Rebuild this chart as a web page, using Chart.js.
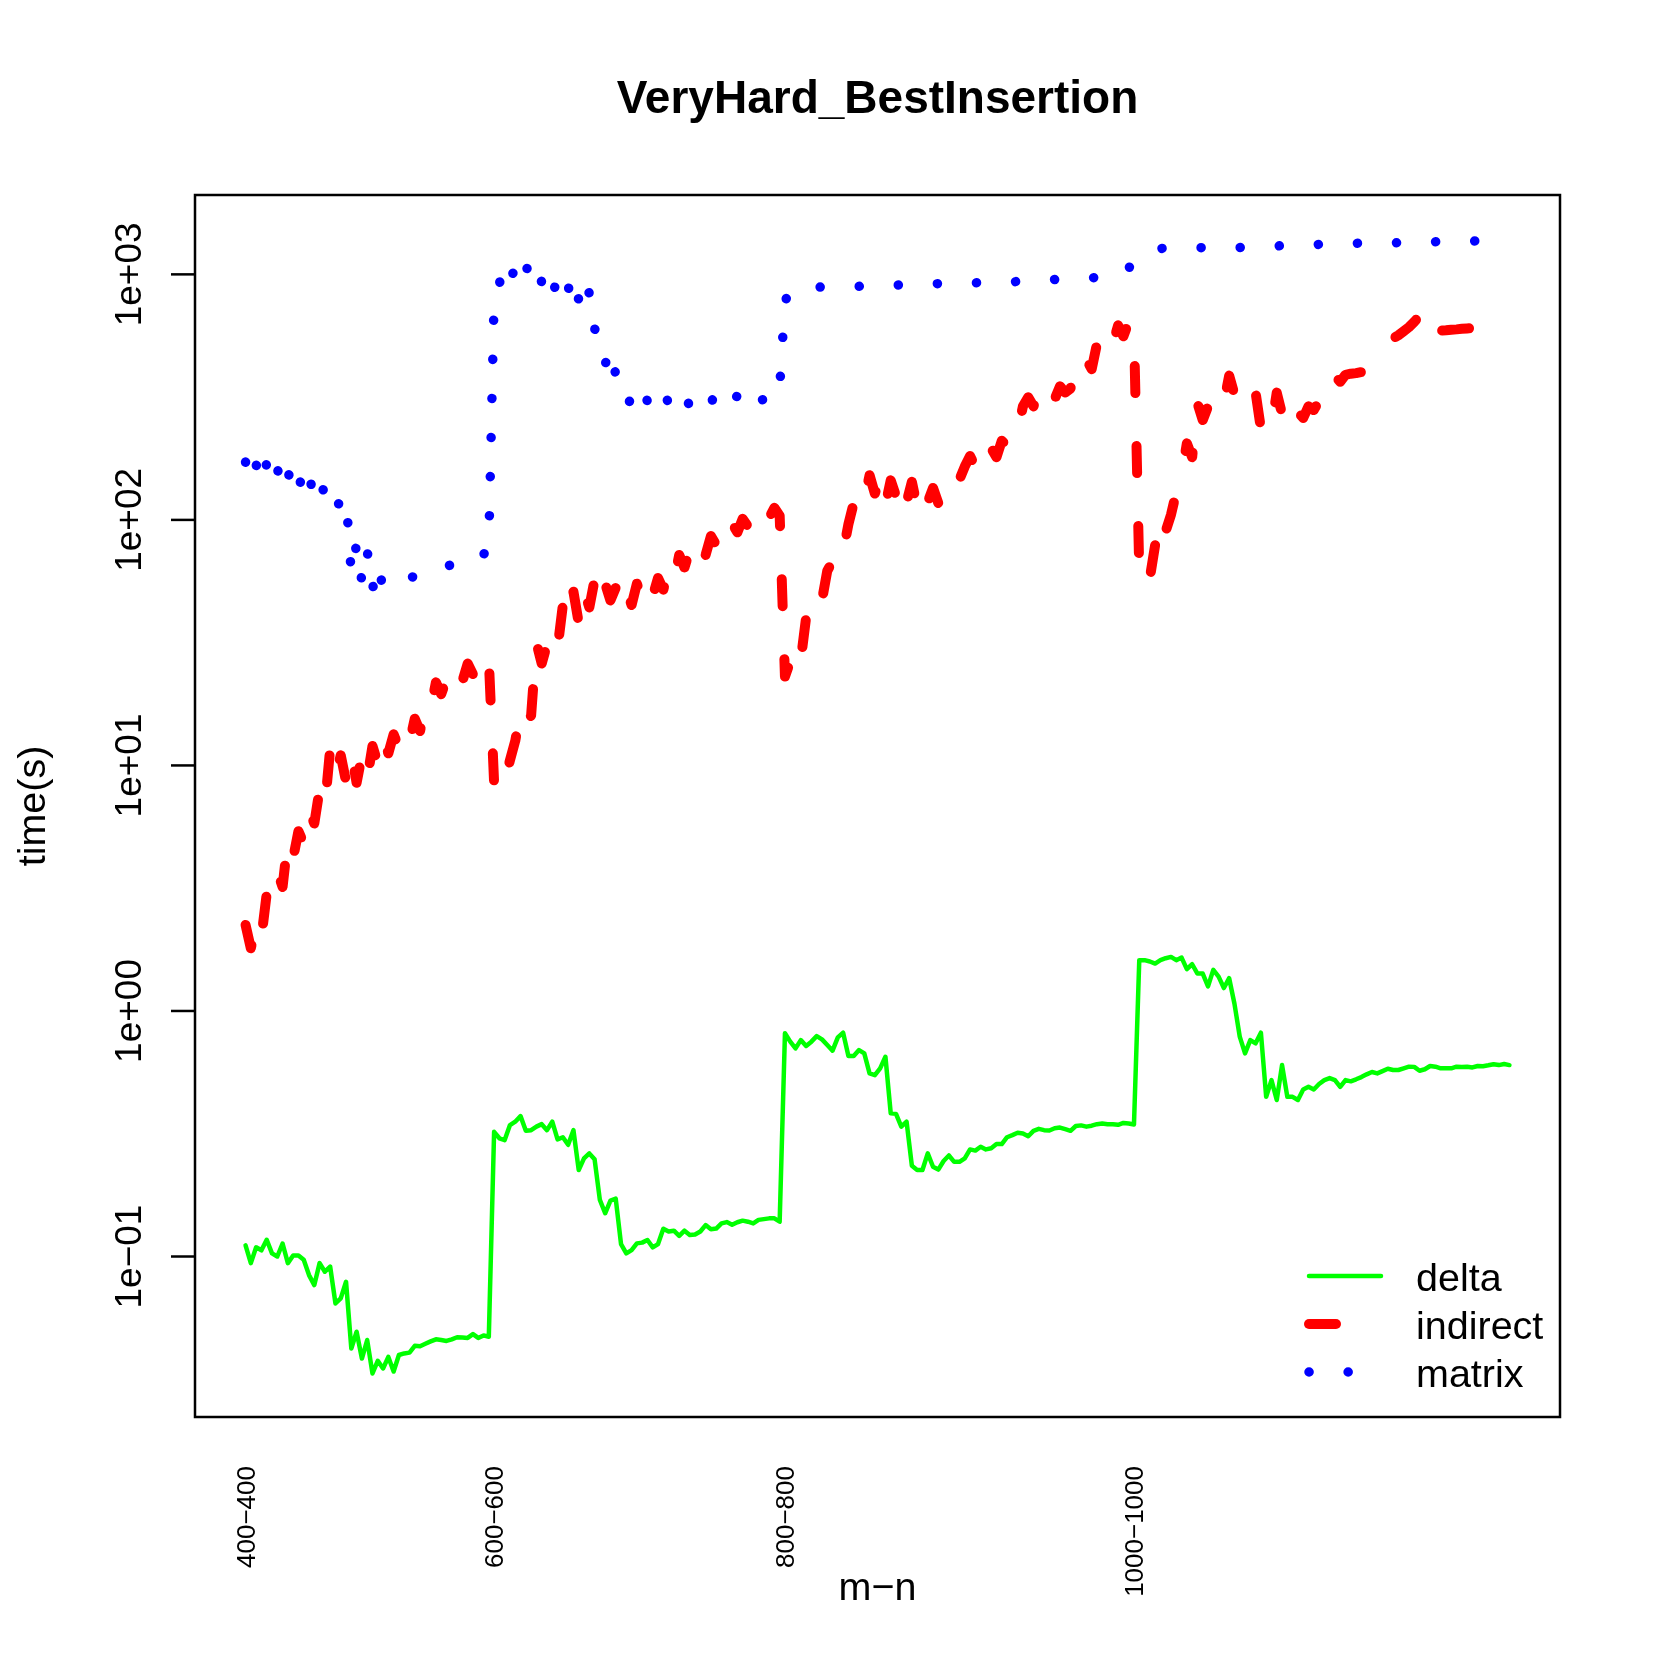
<!DOCTYPE html>
<html>
<head>
<meta charset="utf-8">
<title>VeryHard_BestInsertion</title>
<script src="https://cdn.jsdelivr.net/npm/chart.js@4.4.1/dist/chart.umd.min.js"></script>
<style>
  html, body { margin: 0; padding: 0; background: #ffffff; }
  #wrap { width: 1661px; height: 1661px; }
</style>
</head>
<body>
<div id="wrap"><canvas id="chart" width="1661" height="1661"></canvas></div>
<script>
// --- DATA (one value per m-n instance, index 0..239) ---
const deltaTimes = [
  0.111, 0.094, 0.109, 0.106, 0.117, 0.103, 0.100, 0.113, 0.094, 0.101,
  0.101, 0.097, 0.084, 0.0765, 0.094, 0.0867, 0.091, 0.0644, 0.0675, 0.0789,
  0.0422, 0.0494, 0.0384, 0.0457, 0.0334, 0.0376, 0.035, 0.039, 0.034, 0.0397,
  0.0403, 0.0406, 0.0433, 0.0431, 0.0441, 0.0451, 0.046, 0.0457, 0.0453, 0.046,
  0.0469, 0.0468, 0.0466, 0.0483, 0.0466, 0.0477, 0.0471, 0.322, 0.303, 0.298,
  0.343, 0.354, 0.373, 0.325, 0.327, 0.338, 0.346, 0.327, 0.354, 0.300,
  0.306, 0.285, 0.327, 0.225, 0.251, 0.263, 0.249, 0.170, 0.150, 0.169,
  0.172, 0.1124, 0.103, 0.1062, 0.1131, 0.1139, 0.1167, 0.1089, 0.1124, 0.1298,
  0.1264, 0.1274, 0.1213, 0.1274, 0.1223, 0.1229, 0.1264, 0.1343, 0.1292, 0.130,
  0.1364, 0.1381, 0.1347, 0.1379, 0.140, 0.1386, 0.1364, 0.141, 0.142, 0.143,
  0.143, 0.1386, 0.811, 0.75, 0.704, 0.761, 0.72, 0.75, 0.79, 0.766,
  0.727, 0.689, 0.781, 0.816, 0.655, 0.655, 0.693, 0.672, 0.557, 0.548,
  0.584, 0.651, 0.383, 0.381, 0.338, 0.354, 0.234, 0.225, 0.225, 0.263,
  0.232, 0.226, 0.245, 0.258, 0.243, 0.243, 0.251, 0.273, 0.270, 0.280,
  0.273, 0.276, 0.287, 0.287, 0.306, 0.312, 0.319, 0.317, 0.309, 0.325,
  0.331, 0.327, 0.326, 0.333, 0.335, 0.330, 0.325, 0.340, 0.342, 0.338,
  0.341, 0.346, 0.348, 0.346, 0.346, 0.344, 0.350, 0.348, 0.345, 1.61,
  1.61, 1.59, 1.56, 1.61, 1.64, 1.66, 1.61, 1.65, 1.48, 1.55,
  1.42, 1.42, 1.26, 1.47, 1.38, 1.24, 1.36, 1.07, 0.786, 0.672,
  0.761, 0.738, 0.816, 0.447, 0.523, 0.434, 0.602, 0.447, 0.447, 0.434,
  0.479, 0.491, 0.479, 0.504, 0.523, 0.533, 0.523, 0.491, 0.523, 0.517,
  0.527, 0.538, 0.552, 0.564, 0.557, 0.569, 0.582, 0.575, 0.575, 0.584,
  0.593, 0.592, 0.571, 0.579, 0.597, 0.593, 0.584, 0.584, 0.584, 0.593,
  0.591, 0.593, 0.589, 0.597, 0.596, 0.601, 0.607, 0.602, 0.608, 0.602
];

const indirectTimes = [
  2.24, 1.8, 2.3, 2.0, 3.0, 2.8, 3.7, 3.2, 5.0, 4.2,
  5.4, 4.8, 6.6, 5.8, 8.0, 6.8, 11.7, 9.0, 11.0, 8.6,
  11.3, 8.5, 11.0, 8.8, 12.0, 10.2, 13.2, 11.2, 13.4, 11.8,
  13.8, 12.4, 15.5, 13.8, 18.0, 17.0, 21.8, 19.5, 22.5, 20.5,
  24.0, 22.0, 26.0, 23.5, 27.5, 25.0, 27.0, 8.5, 9.8, 8.6,
  10.5, 12.6, 16.7, 14.5, 16.0, 31.6, 26.0, 31.0, 26.5, 30.0,
  45, 38, 51, 38, 52, 44, 57, 46, 55, 47,
  53, 44, 52, 45, 55, 48, 56, 49, 58, 52,
  63, 56, 72, 64, 75, 68, 80, 72, 86, 79,
  92, 84, 97, 89, 101, 94, 106, 98, 110, 102,
  112, 104, 23, 26.5, 23.0, 27.0, 40, 36, 44, 47,
  62, 68, 80, 74, 96, 117, 105, 120, 152, 128,
  148, 115, 145, 125, 148, 118, 143, 113, 135, 118,
  135, 117, 132, 120, 140, 146, 165, 182, 165, 190,
  172, 196, 180, 210, 200, 240, 230, 290, 316, 290,
  335, 305, 340, 310, 350, 330, 343, 430, 400, 450,
  411, 521, 480, 560, 520, 620, 560, 640, 590, 62,
  68, 58, 79, 106, 90, 105, 130, 152, 205, 180,
  299, 255, 290, 255, 280, 300, 387, 324, 360, 320,
  350, 330, 235, 260, 240, 330, 270, 299, 250, 275,
  260, 290, 280, 305, 372, 350, 385, 365, 390, 394,
  396, 400, 463, 470, 500, 530, 540, 548, 565, 587,
  610, 640, 680, 720, 746, 587, 590, 592, 595, 597,
  600, 602, 604, 606, 608, 610, 612, 613, 615, 616
];

const matrixTimes = [
  172, 143, 168, 140, 170, 142, 162, 135, 158, 132,
  152, 127, 150, 125, 145, 127, 108, 106, 124, 125,
  60, 80, 56, 75, 52, 66, 53, 54, 55, 56,
  57, 58, 59, 61, 62, 63, 64, 64.5, 65, 65.5,
  66, 66, 66, 66, 68, 72, 80, 800, 920, 1060,
  930, 1080, 960, 1090, 950, 1060, 930, 1030, 850, 930,
  800, 900, 700, 800, 690, 850, 600, 560, 430, 500,
  390, 330, 295, 310, 285, 330, 305, 335, 310, 330,
  300, 320, 295, 318, 292, 310, 290, 312, 300, 330,
  315, 330, 305, 320, 300, 318, 302, 320, 305, 330,
  320, 345, 780, 850, 880, 885, 886, 887, 888, 888,
  889, 890, 891, 891, 892, 893, 894, 895, 896, 897,
  898, 900, 902, 904, 906, 908, 910, 912, 913, 915,
  916, 917, 918, 920, 921, 921, 922, 923, 924, 925,
  925, 926, 928, 930, 931, 933, 935, 937, 939, 940,
  943, 947, 950, 953, 957, 961, 964, 965, 967, 968,
  969, 970, 972, 973, 975, 985, 1010, 1060, 1130, 1180,
  1220, 1250, 1265, 1275, 1278, 1280, 1281, 1282, 1283, 1284,
  1285, 1285, 1285, 1286, 1286, 1286, 1287, 1287, 1287, 1290,
  1292, 1295, 1298, 1300, 1302, 1305, 1308, 1310, 1313, 1315,
  1318, 1320, 1322, 1325, 1327, 1329, 1331, 1333, 1335, 1337,
  1339, 1340, 1340, 1341, 1342, 1343, 1344, 1344, 1345, 1347,
  1349, 1351, 1353, 1355, 1357, 1358, 1359, 1360, 1362, 1363,
  1365, 1366, 1367, 1368, 1370, 1371, 1372, 1374, 1375, 1376
];

const seriesNames = ['delta', 'indirect', 'matrix'];
const xTickIdx = [0, 47, 102, 168];
const xTickText = ['400\u2212400', '600\u2212600', '800\u2212800', '1000\u22121000'];
const yTicks = [0.1, 1, 10, 100, 1000];
const yTickText = ['1e\u221201', '1e+00', '1e+01', '1e+02', '1e+03'];

// --- helpers ---
const FONT = '"Liberation Sans", Arial, Helvetica, sans-serif';
const toPoints = (arr) => arr.map((v, i) => ({ x: i, y: v }));

// R style frame, axes text, title and legend
const rDecor = {
  id: 'rDecor',
  afterDraw(chart) {
    const { ctx, chartArea: a, scales: { x, y } } = chart;
    ctx.save();
    ctx.strokeStyle = '#000';
    ctx.fillStyle = '#000';
    ctx.lineWidth = 2.5;
    ctx.strokeRect(a.left, a.top, a.right - a.left, a.bottom - a.top);

    // y axis ticks + labels (rotated like R las=0)
    ctx.font = `37px ${FONT}`;
    yTicks.forEach((v, k) => {
      const py = y.getPixelForValue(v);
      ctx.beginPath();
      ctx.moveTo(a.left, py);
      ctx.lineTo(a.left - 24, py);
      ctx.stroke();
      ctx.save();
      ctx.translate(141, py);
      ctx.rotate(-Math.PI / 2);
      ctx.textAlign = 'center';
      ctx.fillText(yTickText[k], 0, 0);
      ctx.restore();
    });

    // x labels, vertical (las=2)
    ctx.font = `26px ${FONT}`;
    xTickIdx.forEach((v, k) => {
      const px = x.getPixelForValue(v);
      ctx.save();
      ctx.translate(px + 9, 1466);
      ctx.rotate(-Math.PI / 2);
      ctx.textAlign = 'right';
      ctx.fillText(xTickText[k], 0, 0);
      ctx.restore();
    });

    // titles
    const cx = (a.left + a.right) / 2;
    ctx.textAlign = 'center';
    ctx.font = `bold 46px ${FONT}`;
    ctx.fillText('VeryHard_BestInsertion', cx, 113);
    ctx.font = `39.5px ${FONT}`;
    ctx.fillText('m\u2212n', cx, 1600);
    ctx.save();
    ctx.translate(45, (a.top + a.bottom) / 2);
    ctx.rotate(-Math.PI / 2);
    ctx.fillText('time(s)', 0, 0);
    ctx.restore();

    // legend (bottom right, no box)
    const rows = [1276, 1324, 1372];
    chart.data.datasets.forEach((ds, k) => {
      ctx.save();
      ctx.strokeStyle = ds.borderColor;
      ctx.lineWidth = ds.borderWidth;
      ctx.lineCap = 'round';
      ctx.setLineDash(ds.borderDash || []);
      ctx.beginPath();
      ctx.moveTo(1309, rows[k]);
      ctx.lineTo(1381, rows[k]);
      ctx.stroke();
      ctx.restore();
    });
    ctx.textAlign = 'left';
    ctx.font = `39.5px ${FONT}`;
    seriesNames.forEach((n, k) => ctx.fillText(n, 1416, rows[k] + 15));
    ctx.restore();
  }
};

const lineStyle = (color, width, dash) => ({
  borderColor: color,
  backgroundColor: color,
  borderWidth: width,
  borderDash: dash,
  borderCapStyle: 'round',
  borderJoinStyle: 'round',
  pointRadius: 0,
  tension: 0,
  fill: false
});

new Chart(document.getElementById('chart'), {
  type: 'line',
  data: {
    datasets: [
      { label: seriesNames[0], data: toPoints(deltaTimes), ...lineStyle('#00ff00', 4.5, []) },
      { label: seriesNames[1], data: toPoints(indirectTimes), ...lineStyle('#ff0000', 10, [27, 53]) },
      { label: seriesNames[2], data: toPoints(matrixTimes), ...lineStyle('#0000ff', 9.5, [0.1, 39]) }
    ]
  },
  options: {
    responsive: false,
    animation: false,
    devicePixelRatio: 1,
    layout: { padding: { left: 195, top: 195, right: 101, bottom: 244 } },
    plugins: { legend: { display: false }, title: { display: false }, tooltip: { enabled: false } },
    scales: {
      x: { type: 'linear', display: false, min: -9.56, max: 248.56 },
      y: { type: 'logarithmic', display: false, min: 0.0222, max: 2105 }
    }
  },
  plugins: [rDecor]
});
</script>
</body>
</html>
